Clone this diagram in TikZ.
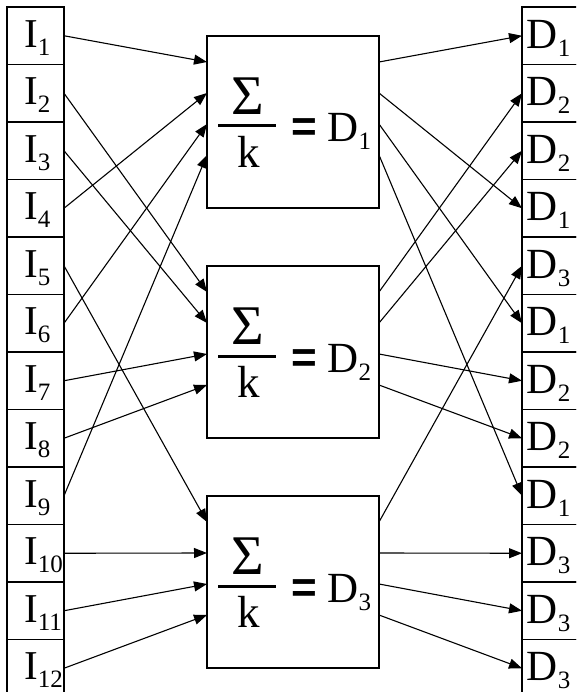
\documentclass[tikz,border=0pt]{standalone}
\usepackage{fontspec}
\setmainfont{Liberation Serif}
\setsansfont{Liberation Sans}
\usepackage{tikz}
\usetikzlibrary{positioning}
\usetikzlibrary{arrows.meta}
\newcommand{\lowidx}[1]{\raisebox{-8pt}{\fontsize{25}{25}\selectfont #1}}

\begin{document}
\begin{tikzpicture}[x=1pt, y=-1pt]
    % Styles:
    \tikzset{cell/.style={draw, line width=1.1pt, minimum width=57pt, minimum height=57.5pt, inner sep=0pt, outer sep=0pt}}
    \tikzset{sumbox/.style={draw, line width=1.2pt, minimum size=172pt, inner sep=0pt, outer sep=0pt}}
    \tikzset{lbl/.style={anchor=base west, inner sep=0pt, font=\fontsize{41}{41}\selectfont}}
    \tikzset{link/.style={line width=1.1pt, -{Triangle[length=13pt, width=10pt]}}}
    \tikzset{node distance = 0pt}

    \useasboundingbox (0,0) rectangle (576,692);
    \clip (0,0) rectangle (576,692);

    % Input and output columns:
    \node[cell] (in1)  at (35.5,35.75) {};
    \node[cell] (out1) at (550.5,35.75) {};
    \foreach \i [remember=\i as \prev (initially 1)] in {2,...,12} {
        \node[cell] (in\i)  [below = of in\prev] {};
        \node[cell] (out\i) [below = of out\prev] {};
    }

    % Column labels:
    \foreach \i in {1,...,12}
        \node[lbl] at ([xshift=17pt, yshift=-11.5pt]in\i.west) {I\lowidx{\i}};
    \foreach \i/\d in {1/1,2/2,3/2,4/1,5/3,6/1,7/2,8/2,9/1,10/3,11/3,12/3}
        \node[lbl, font=\fontsize{43}{43}\selectfont] at ([xshift=4.5pt, yshift=-12.5pt]out\i.west) {D\lowidx{\d}};

    % Sum boxes:
    \node[sumbox] (sum1) at (293,122) {};
    \node[sumbox] (sum2) at (293,352) {};
    \node[sumbox] (sum3) at (293,582) {};

    % Box formulas:
    \foreach \b in {1,2,3} {
        \node[inner sep=0pt, font=\fontsize{56}{56}\selectfont] (sig\b) at ([xshift=-45.5pt, yshift=25.5pt]sum\b.center) {Σ};
        \node[inner sep=0pt, font=\fontsize{45}{45}\selectfont] (k\b) at ([xshift=-44.5pt, yshift=-29.5pt]sum\b.center) {k};
        \coordinate (barl\b) at ([xshift=-75pt, yshift=-4pt]sum\b.center);
        \coordinate (barr\b) at ([xshift=-17pt, yshift=-4pt]sum\b.center);
        \draw[line width=3pt] (barl\b) -- (barr\b);
        \node[inner sep=0pt, anchor=base, font=\fontsize{44}{44}\selectfont\sffamily\bfseries] (eq\b) at ([xshift=11pt, yshift=-20pt]sum\b.center) {=};
        \node[lbl, font=\fontsize{43}{43}\selectfont] (res\b) at ([xshift=34.3pt, yshift=-20pt]sum\b.center) {D\lowidx{\b}};
    }

    % Ports on the boxes:
    \foreach \b in {1,2,3}
        \foreach \p/\d in {1/26,2/57,3/88,4/119} {
            \coordinate (sum\b-in\p)  at ([yshift=-\d pt]sum\b.north west);
            \coordinate (sum\b-out\p) at ([yshift=-\d pt]sum\b.north east);
        }

    % Connectors:
    \foreach \i/\b/\p in {1/1/1,4/1/2,6/1/3,9/1/4,2/2/1,3/2/2,7/2/3,8/2/4,5/3/1,10/3/2,11/3/3,12/3/4}
        \draw[link] (in\i.east) -- (sum\b-in\p);
    \foreach \b/\p/\o in {1/1/1,1/2/4,1/3/6,1/4/9,2/1/2,2/2/3,2/3/7,2/4/8,3/1/5,3/2/10,3/3/11,3/4/12}
        \draw[link] (sum\b-out\p) -- (out\o.west);
\end{tikzpicture}
\end{document}
